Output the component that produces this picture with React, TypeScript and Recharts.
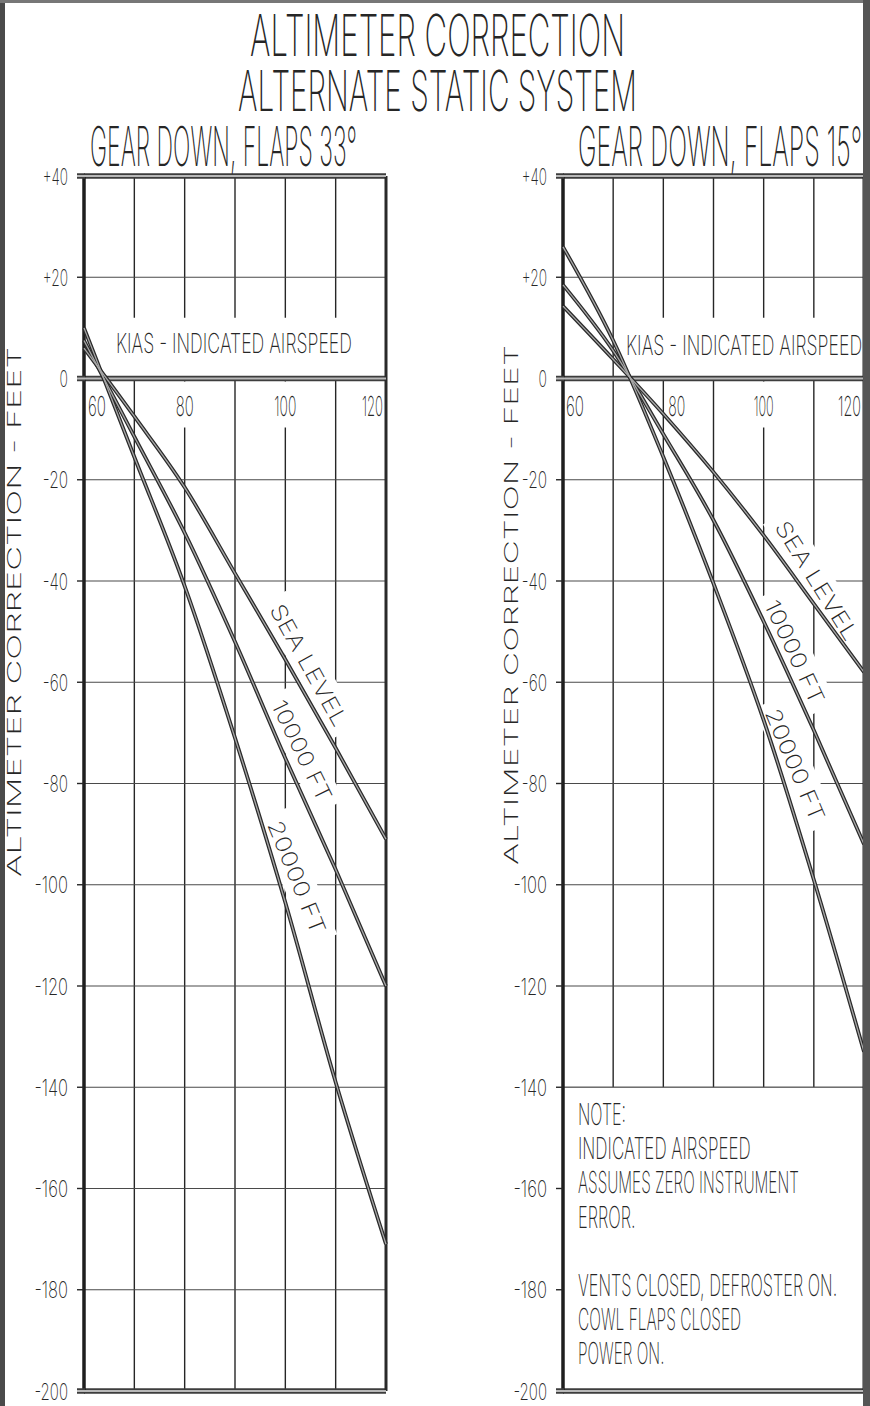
import {
  LineChart,
  Line,
  XAxis,
  YAxis,
  ReferenceLine,
  ReferenceArea,
  ReferenceDot,
} from "recharts";

const INK = "#262626";
const FONT = "Inter, 'DejaVu Sans', sans-serif";

// indicated airspeed (KIAS) where the curves were read
const KIAS = [60, 70, 80, 90, 100, 110, 120];
const Y_TICKS = [40, 20, 0, -20, -40, -60, -80, -100, -120, -140, -160, -180, -200];
const HEAVY_Y = [40, 0, -200];

// gear down, flaps 33° — altimeter correction in feet
const FLAPS33_SEA_LEVEL = [6, -7.5, -21.5, -38.5, -55.5, -73, -91];
const FLAPS33_10000_FT = [7.5, -11.5, -30.5, -52, -75, -97, -120];
const FLAPS33_20000_FT = [10, -15.5, -41, -71, -103.5, -139, -171];

// gear down, flaps 15°
const FLAPS15_SEA_LEVEL = [14.3, 3.8, -7, -18.5, -31, -44.5, -58];
const FLAPS15_10000_FT = [18.5, 5.5, -11, -28, -48, -69.5, -92];
const FLAPS15_20000_FT = [26, 7.5, -15.5, -40.5, -67.5, -99, -133];

const NOTE_LINES = [
  "NOTE:",
  "INDICATED AIRSPEED",
  "ASSUMES ZERO INSTRUMENT",
  "ERROR.",
  "",
  "VENTS CLOSED, DEFROSTER ON.",
  "COWL FLAPS CLOSED",
  "POWER ON.",
];

const SERIES = ["sl", "ft10", "ft20"];

const buildRows = (sl: number[], ft10: number[], ft20: number[]) =>
  KIAS.map((kias, i) => ({ kias, sl: sl[i], ft10: ft10[i], ft20: ft20[i] }));

type CurveLabel = { text: string; kias: number; ft: number; angle: number; len: number };
type XLabel = { v: number; anchor: "start" | "middle" | "end"; dx: number; w: number };

// thin, squeezed lettering to look like the drafting font
function CadText({ x, y, text, cap, w, anchor = "start", rotate, weight = 200 }: any) {
  return (
    <text
      x={x}
      y={y}
      fontSize={cap / 0.73}
      textLength={w}
      lengthAdjust="spacingAndGlyphs"
      textAnchor={anchor}
      fontFamily={FONT}
      fontWeight={weight}
      fill={INK}
      transform={rotate ? `rotate(${rotate} ${x} ${y})` : undefined}
    >
      {text}
    </text>
  );
}

function YTick(props: any) {
  const { x, y, payload } = props;
  const v = payload.value as number;
  const s = v > 0 ? `+${v}` : `${v}`;
  return (
    <g>
      {HEAVY_Y.includes(v) && (
        <>
          <line x1={x + 9} y1={y} x2={x + 17} y2={y} stroke="#3d3d3d" strokeWidth={5.5} />
          <line x1={x + 9} y1={y} x2={x + 17} y2={y} stroke="#b8b8b8" strokeWidth={2} />
        </>
      )}
      <CadText x={x} y={y + 8.5} text={s} cap={17} w={s.length * 8.4} anchor="end" />
    </g>
  );
}

type PanelProps = {
  left: number;
  width: number;
  axisWidth: number;
  marginRight: number;
  rows: any[];
  labels: CurveLabel[];
  xLabels: XLabel[];
  bandFrom: number;
  kiasAt: [number, number];
  note?: boolean;
};

function Panel({ left, width, axisWidth, marginRight, rows, labels, xLabels, bandFrom, kiasAt, note }: PanelProps) {
  return (
    <div style={{ position: "absolute", left, top: 0 }}>
      <LineChart
        width={width}
        height={1406}
        data={rows}
        margin={{ top: 176, right: marginRight, bottom: 15, left: 0 }}
      >
        <XAxis dataKey="kias" type="number" domain={[60, 120]} ticks={KIAS} hide />
        <YAxis
          type="number"
          domain={[-200, 40]}
          ticks={Y_TICKS}
          interval={0}
          width={axisWidth}
          axisLine={false}
          tickSize={7}
          tickMargin={9}
          tickLine={{ stroke: INK, strokeWidth: 1.4 }}
          tick={YTick}
        />

        {/* grid */}
        {KIAS.slice(1, -1).map((k) => (
          <ReferenceLine key={`v${k}`} x={k} stroke={INK} strokeWidth={1.4} zIndex={100} />
        ))}
        {Y_TICKS.filter((v) => !HEAVY_Y.includes(v)).map((v) => (
          <ReferenceLine key={`h${v}`} y={v} stroke="#4a4a4a" strokeWidth={1.2} zIndex={100} />
        ))}

        {/* white band behind the airspeed caption */}
        <ReferenceArea x1={bandFrom} x2={120} y1={0} y2={12} fill="#fff" fillOpacity={1} stroke="none" zIndex={200} />
        <ReferenceDot
          x={kiasAt[0]}
          y={kiasAt[1]}
          r={0}
          zIndex={200}
          shape={(p: any) => (
            <CadText x={p.cx} y={p.cy + 10} text="KIAS - INDICATED AIRSPEED" cap={20} w={236} anchor="middle" />
          )}
        />

        {note && (
          <ReferenceArea x1={60} x2={120} y1={-200} y2={-140} fill="#fff" fillOpacity={1} stroke="none" zIndex={200} />
        )}
        {note && <ReferenceLine y={-140} stroke="#4a4a4a" strokeWidth={1.2} zIndex={250} />}

        {xLabels.map((t) => (
          <ReferenceDot
            key={`x${t.v}`}
            x={t.v}
            y={0}
            r={0}
            zIndex={200}
            shape={(p: any) => (
              <g>
                {t.anchor === "middle" && (
                  <rect x={p.cx - t.w / 2 - 4} y={p.cy + 3} width={t.w + 8} height={46} fill="#fff" />
                )}
                <CadText x={p.cx + t.dx} y={p.cy + 37} text={String(t.v)} cap={20} w={t.w} anchor={t.anchor} />
              </g>
            )}
          />
        ))}

        {labels.map((l) => (
          <ReferenceDot
            key={l.text}
            x={l.kias}
            y={l.ft}
            r={0}
            zIndex={200}
            shape={(p: any) => (
              <g transform={`translate(${p.cx},${p.cy}) rotate(${l.angle})`}>
                <rect x={-l.len / 2 - 8} y={-16} width={l.len + 16} height={32} fill="#fff" />
                <CadText x={0} y={8} text={l.text} cap={16} w={l.len} anchor="middle" />
              </g>
            )}
          />
        ))}

        {/* frame */}
        {HEAVY_Y.map((v) => (
          <ReferenceLine key={`f${v}`} y={v} stroke="#3d3d3d" strokeWidth={5.5} zIndex={300} />
        ))}
        {HEAVY_Y.map((v) => (
          <ReferenceLine key={`fi${v}`} y={v} stroke="#b8b8b8" strokeWidth={2} zIndex={301} />
        ))}
        <ReferenceLine x={60} stroke="#1e1e1e" strokeWidth={3.5} zIndex={300} />
        <ReferenceLine x={120} stroke="#2a2a2a" strokeWidth={3} zIndex={300} />

        {SERIES.map((k) => (
          <Line
            key={k}
            dataKey={k}
            type="monotone"
            stroke="#2a2a2a"
            strokeWidth={3.8}
            dot={false}
            activeDot={false}
            isAnimationActive={false}
            zIndex={400}
          />
        ))}
        {SERIES.map((k) => (
          <Line
            key={`${k}-in`}
            dataKey={k}
            type="monotone"
            stroke="#a8a8a8"
            strokeWidth={1.3}
            dot={false}
            activeDot={false}
            isAnimationActive={false}
            zIndex={410}
          />
        ))}
      </LineChart>
    </div>
  );
}

const LEFT_LABELS: CurveLabel[] = [
  { text: "SEA LEVEL", kias: 104.7, ft: -56.6, angle: 61, len: 136 },
  { text: "10000 FT", kias: 103.3, ft: -73.5, angle: 64, len: 110 },
  { text: "20000 FT", kias: 102.3, ft: -98.5, angle: 68, len: 120 },
];
const RIGHT_LABELS: CurveLabel[] = [
  { text: "SEA LEVEL", kias: 110.6, ft: -39.9, angle: 58, len: 136 },
  { text: "10000 FT", kias: 106.2, ft: -54, angle: 65, len: 112 },
  { text: "20000 FT", kias: 106.3, ft: -76.3, angle: 67, len: 120 },
];
const LEFT_X: XLabel[] = [
  { v: 60, anchor: "start", dx: 4, w: 18 },
  { v: 80, anchor: "middle", dx: 0, w: 18 },
  { v: 100, anchor: "middle", dx: 0, w: 22 },
  { v: 120, anchor: "end", dx: -3, w: 21 },
];
const RIGHT_X: XLabel[] = [
  { v: 60, anchor: "start", dx: 3, w: 18 },
  { v: 80, anchor: "start", dx: 5, w: 17 },
  { v: 100, anchor: "middle", dx: 0, w: 20 },
  { v: 120, anchor: "end", dx: -3, w: 23 },
];

export default function App() {
  return (
    <div style={{ position: "relative", width: 870, height: 1406, background: "#fff", overflow: "hidden" }}>
      <style>{"body{margin:0}"}</style>
      <Panel
        left={0}
        width={440}
        axisWidth={84}
        marginRight={54}
        rows={buildRows(FLAPS33_SEA_LEVEL, FLAPS33_10000_FT, FLAPS33_20000_FT)}
        labels={LEFT_LABELS}
        xLabels={LEFT_X}
        bandFrom={60}
        kiasAt={[89.8, 7]}
      />
      <Panel
        left={440}
        width={430}
        axisWidth={123}
        marginRight={6}
        rows={buildRows(FLAPS15_SEA_LEVEL, FLAPS15_10000_FT, FLAPS15_20000_FT)}
        labels={RIGHT_LABELS}
        xLabels={RIGHT_X}
        bandFrom={71}
        kiasAt={[96.1, 6.6]}
        note
      />
      <svg
        width={870}
        height={1406}
        style={{ position: "absolute", left: 0, top: 0, pointerEvents: "none" }}
      >
        <line x1={2.5} y1={0} x2={2.5} y2={1406} stroke="#4a4a4a" strokeWidth={5} />
        <line x1={0} y1={1.5} x2={870} y2={1.5} stroke="#777" strokeWidth={3} />
        <line x1={866.5} y1={0} x2={866.5} y2={1406} stroke="#555" strokeWidth={7} />

        <CadText x={250} y={56} text="ALTIMETER CORRECTION" cap={42} w={375} weight={200} />
        <CadText x={238} y={111} text="ALTERNATE STATIC SYSTEM" cap={41} w={399} weight={200} />
        <CadText x={90} y={166} text="GEAR DOWN, FLAPS 33°" cap={40} w={267} weight={200} />
        <CadText x={578} y={166} text="GEAR DOWN, FLAPS 15°" cap={40} w={284} weight={200} />

        <CadText x={21} y={612} text="ALTIMETER CORRECTION - FEET" cap={14} w={530} anchor="middle" rotate={-90} />
        <CadText x={518} y={605} text="ALTIMETER CORRECTION - FEET" cap={14} w={520} anchor="middle" rotate={-90} />

        {NOTE_LINES.map((t, i) =>
          t ? (
            <CadText
              key={i}
              x={578}
              y={1125 + i * 34.2}
              text={t}
              cap={22}
              w={t.length * 9.6}
            />
          ) : null
        )}
      </svg>
    </div>
  );
}
